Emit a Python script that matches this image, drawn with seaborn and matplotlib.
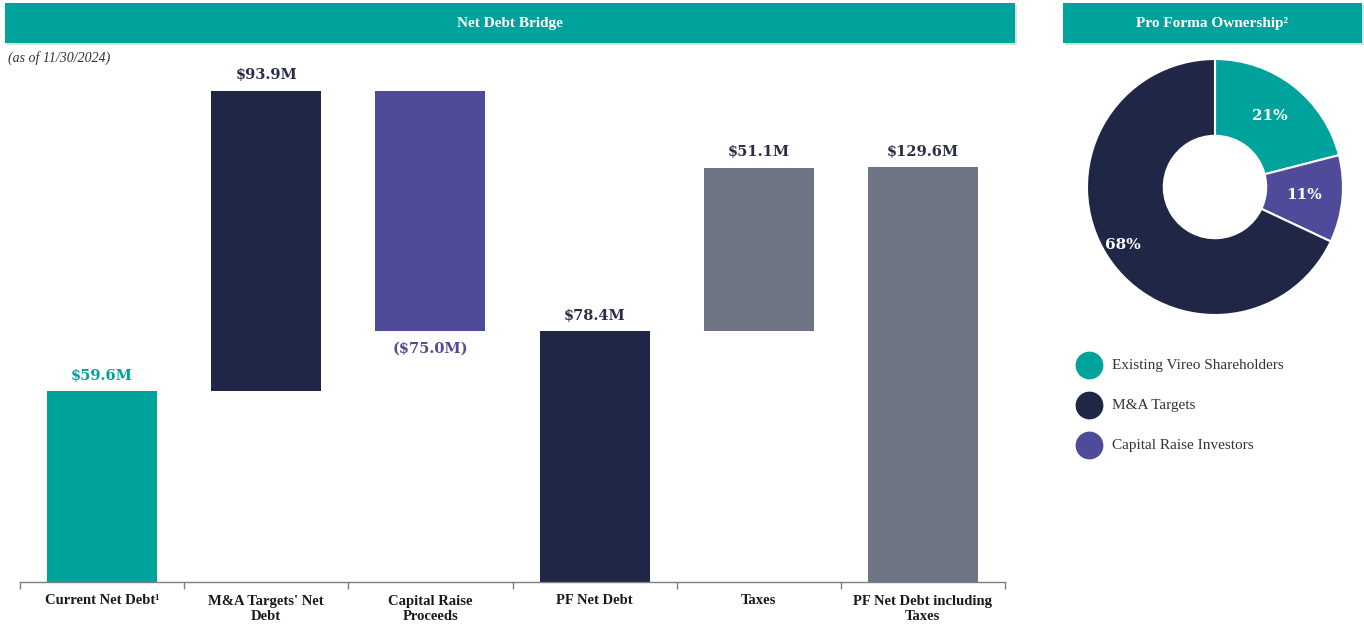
import numpy as np
import pandas as pd
import matplotlib
matplotlib.use("Agg")
import matplotlib.pyplot as plt
from matplotlib.patches import Rectangle
from matplotlib.lines import Line2D
import seaborn as sns

# ---------------- data ----------------
categories = ["Current Net Debt\u00b9", "M&A Targets' Net\nDebt", "Capital Raise\nProceeds",
              "PF Net Debt", "Taxes", "PF Net Debt including\nTaxes"]
changes = [59.6, 93.9, -75.0, 78.4, 51.1, 129.6]
kinds = ["total", "delta", "delta", "total", "delta", "total"]
value_labels = ["$59.6M", "$93.9M", "($75.0M)", "$78.4M", "$51.1M", "$129.6M"]

own_labels = ["Existing Vireo Shareholders", "M&A Targets", "Capital Raise Investors"]
own_values = [21, 68, 11]
pie_order = [0, 2, 1]  # clockwise from 12 o'clock: teal, purple, navy

TEAL = "#00A39B"
NAVY = "#1F2646"
PURPLE = "#4F4A9A"
GRAY = "#6E7483"
bar_colors = [TEAL, NAVY, PURPLE, NAVY, GRAY, GRAY]
label_colors = [TEAL, "#2A2D45", PURPLE, "#2A2D45", "#2A2D45", "#2A2D45"]
own_colors = [TEAL, NAVY, PURPLE]

# waterfall geometry computed from data
bottoms, heights = [], []
running = 0.0
for c, k in zip(changes, kinds):
    if k == "total":
        bottoms.append(0.0)
        heights.append(c)
        running = c
    else:
        lo = min(running, running + c)
        bottoms.append(lo)
        heights.append(abs(c))
        running = running + c

df = pd.DataFrame({"category": categories, "height": heights, "bottom": bottoms})

# ---------------- figure ----------------
sns.set_theme(style="white")
plt.rcParams["font.family"] = ["DejaVu Serif"]
W, H = 1364, 627
fig = plt.figure(figsize=(W / 100, H / 100), dpi=100)
fig.patch.set_facecolor("white")


def fx(px):
    return px / W


def fy(py):
    return 1 - py / H


# header bars
for (x0, x1, title) in [(5, 1015, "Net Debt Bridge"), (1063, 1362, "Pro Forma Ownership\u00b2")]:
    fig.patches.append(Rectangle((fx(x0 + 2), fy(45)), fx(x1 - x0), (43 - 3) / H,
                                 transform=fig.transFigure, facecolor="#dcdcdc", edgecolor="none", zorder=0))
    fig.patches.append(Rectangle((fx(x0), fy(43)), fx(x1 - x0), (43 - 3) / H,
                                 transform=fig.transFigure, facecolor=TEAL, edgecolor="none", zorder=1))
    fig.text(fx((x0 + x1) / 2), fy(23), title, color="white", fontsize=11, fontweight="bold",
             family="Liberation Serif", ha="center", va="center", zorder=2)

fig.text(fx(8), fy(58), "(as of 11/30/2024)", fontsize=10, style="italic",
         family="Liberation Serif", color="#333333", ha="left", va="center")

# ---------------- waterfall ----------------
ax_l, ax_r, ax_b, ax_t = 20, 1005, 582, 60
ax = fig.add_axes([fx(ax_l), fy(ax_b), fx(ax_r - ax_l), (ax_b - ax_t) / H])
sns.barplot(data=df, x="category", y="height", bottom=df["bottom"].values, width=0.67,
            color=NAVY, ax=ax, errorbar=None, linewidth=0, saturation=1)
for p, col in zip(ax.patches, bar_colors):
    p.set_facecolor(col)
    p.set_edgecolor("none")

ax.set_ylim(0, (ax_b - ax_t) / 3.2)
ax.set_xlim(-0.5, len(categories) - 0.5)
ax.set_xlabel("")
ax.set_ylabel("")
ax.set_yticks([])
for s in ["left", "top", "right"]:
    ax.spines[s].set_visible(False)
ax.spines["bottom"].set_color("#7f7f7f")
ax.spines["bottom"].set_linewidth(1.0)
ax.set_xticks(np.arange(len(categories)))
ax.set_xticklabels(categories, fontsize=10.5, fontweight="bold", family="Liberation Serif",
                   color="#1a1a1a")
for t in ax.get_xticklabels():
    t.set_linespacing(1.25)
ax.set_xticks(np.arange(len(categories) + 1) - 0.5, minor=True)
ax.tick_params(axis="x", which="major", length=0, pad=9)
ax.tick_params(axis="x", which="minor", length=5, width=1, color="#7f7f7f", direction="out", bottom=True)

for i, (b, h, lab, lc, c) in enumerate(zip(bottoms, heights, value_labels, label_colors, changes)):
    if c < 0:
        ax.annotate(lab, (i, b), xytext=(0, -8), textcoords="offset points", ha="center", va="top",
                    fontsize=10.5, fontweight="bold", color=lc)
    else:
        ax.annotate(lab, (i, b + h), xytext=(0, 6), textcoords="offset points", ha="center", va="bottom",
                    fontsize=10.5, fontweight="bold", color=lc)

# ---------------- donut ----------------
cx, cy, half = 1215, 187, 135
pax = fig.add_axes([fx(cx - half), fy(cy + half), fx(2 * half), 2 * half / H])
vals = [own_values[i] for i in pie_order]
cols = [own_colors[i] for i in pie_order]
R = 128 / half
wedges, _ = pax.pie(vals, colors=cols, startangle=90, counterclock=False, radius=R,
                    wedgeprops=dict(width=R * 0.6, edgecolor="white", linewidth=1.5))
pax.set_xlim(-1, 1)
pax.set_ylim(-1, 1)
pax.set_aspect("equal")
pax.axis("off")
dists = [0.70, 0.70, 0.85]
for w, v, d in zip(wedges, vals, dists):
    ang = np.deg2rad((w.theta1 + w.theta2) / 2)
    pax.text(d * R * np.cos(ang), d * R * np.sin(ang), f"{v}%", color="white", fontsize=11,
             fontweight="bold", ha="center", va="center")

# legend
for i, (lab, col) in enumerate(zip(own_labels, own_colors)):
    y = 365 + 40 * i
    fig.add_artist(Line2D([fx(1089)], [fy(y)], marker="o", markersize=19, color=col,
                          markeredgecolor=col, transform=fig.transFigure, linestyle="none"))
    fig.text(fx(1112), fy(y), lab, fontsize=11, family="Liberation Serif", color="#333333",
             ha="left", va="center")

fig.savefig("out.png", dpi=100)
